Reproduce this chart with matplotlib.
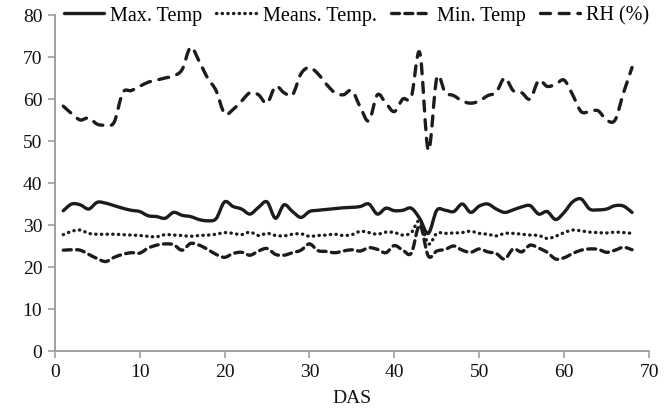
import matplotlib
matplotlib.use("Agg")
import matplotlib.pyplot as plt
from matplotlib.path import Path
from matplotlib.patches import PathPatch
from matplotlib.lines import Line2D

days = list(range(1, 69))

max_temp = [33.4, 35.0, 34.8, 33.8, 35.4, 35.2, 34.6, 34.0, 33.5, 33.2,
            32.2, 32.0, 31.6, 33.0, 32.3, 32.0, 31.3, 31.0, 31.5, 35.5,
            34.4, 33.8, 32.6, 34.2, 35.5, 31.6, 34.8, 33.2, 31.8, 33.2,
            33.5, 33.7, 33.9, 34.1, 34.2, 34.4, 35.0, 32.6, 34.0, 33.4,
            33.5, 34.0, 31.5, 28.0, 33.5, 33.5, 33.2, 35.0, 33.0, 34.5,
            35.0, 33.8, 33.0, 33.6, 34.3, 34.6, 32.6, 33.2, 31.3, 33.0,
            35.5, 36.2, 33.8, 33.6, 33.8, 34.6, 34.5, 33.0]

mean_temp = [27.7, 28.5, 28.8, 28.0, 27.8, 27.8, 27.8, 27.7, 27.6, 27.5,
             27.3, 27.2, 27.7, 27.6, 27.5, 27.3, 27.5, 27.6, 27.8, 28.2,
             28.0, 27.7, 28.3, 27.5, 28.0, 27.5, 27.4, 27.8, 27.9, 27.3,
             27.5, 27.6, 27.8, 27.5, 27.7, 28.5, 28.2, 27.8, 28.3, 28.2,
             27.6, 28.2, 31.0, 25.5, 28.0, 28.0, 28.1, 28.2, 28.5, 28.0,
             27.8, 27.4, 28.0, 28.0, 27.8, 27.6, 27.5, 26.8, 27.3, 28.2,
             28.8, 28.6, 28.3, 28.2, 28.1, 28.3, 28.2, 28.0]

min_temp = [24.0, 24.1, 24.0, 23.0, 22.0, 21.3, 22.3, 23.0, 23.4, 23.3,
            24.5, 25.2, 25.5, 25.3, 24.0, 25.6, 25.2, 24.2, 23.0, 22.3,
            23.2, 23.5, 22.8, 23.8, 24.4, 23.0, 22.8, 23.4, 24.0, 25.5,
            23.9, 23.7, 23.4, 23.8, 24.1, 23.8, 24.6, 24.2, 23.4, 25.1,
            24.0, 23.3, 30.0, 22.6, 23.8, 24.2, 25.0, 24.0, 23.5, 24.3,
            23.6, 23.2, 21.9, 24.3, 23.6, 25.2, 24.5, 23.5, 21.9, 22.2,
            23.2, 24.0, 24.3, 24.2, 23.5, 24.0, 24.7, 24.1]

rh = [58.3, 56.5, 55.0, 55.5, 54.0, 53.8, 54.5, 61.5, 62.0, 63.0,
      64.0, 64.5, 65.0, 65.5, 67.0, 72.3, 69.0, 65.0, 62.0, 56.5,
      57.5, 59.5, 61.5, 61.0, 59.0, 63.0, 61.5, 61.0, 66.0, 67.5,
      66.0, 63.5, 61.5, 61.0, 62.0, 58.0, 54.8, 61.0, 59.0, 57.0,
      60.0, 60.5, 71.0, 47.8, 65.0, 61.5, 60.8, 59.5, 59.0, 59.5,
      60.8, 61.6, 65.0, 62.0, 61.5, 60.0, 64.4, 63.0, 63.5, 64.5,
      61.0, 57.0, 57.0, 57.2, 55.0, 55.0, 61.5, 67.5]

labels = ["Max. Temp", "Means. Temp.", "Min. Temp", "RH (%)"]
x_ticks = [0, 10, 20, 30, 40, 50, 60, 70]
y_ticks = [0, 10, 20, 30, 40, 50, 60, 70, 80]

plt.rcParams['font.family'] = ['Liberation Serif', 'DejaVu Serif']

fig = plt.figure(figsize=(6.68, 4.10), dpi=100)
ax = fig.add_axes([0.082, 0.1415, 0.8896, 0.8195])

lc = '#1c1c1c'
lw = 2.4


def smooth_path(xs, ys):
    # Excel-style smoothed line: cubic Bezier segments through the data points
    n = len(xs)
    verts = [(xs[0], ys[0])]
    codes = [Path.MOVETO]
    for i in range(n - 1):
        x0, y0 = (xs[i - 1], ys[i - 1]) if i > 0 else (xs[i], ys[i])
        x1, y1 = xs[i], ys[i]
        x2, y2 = xs[i + 1], ys[i + 1]
        x3, y3 = (xs[i + 2], ys[i + 2]) if i + 2 < n else (x2, y2)
        c1 = (x1 + (x2 - x0) / 6.0, y1 + (y2 - y0) / 6.0)
        c2 = (x2 - (x3 - x1) / 6.0, y2 - (y3 - y1) / 6.0)
        verts += [c1, c2, (x2, y2)]
        codes += [Path.CURVE4] * 3
    return Path(verts, codes)


styles = ['-', (0, (0.1, 1.6)), (0, (2.4, 1.6)), (0, (3.0, 2.6))]
series = [max_temp, mean_temp, min_temp, rh]
handles = []
for vals, ls, lab in zip(series, styles, labels):
    patch = PathPatch(smooth_path(days, vals), fill=False, edgecolor=lc,
                      lw=lw, linestyle=ls, capstyle='round',
                      joinstyle='round')
    ax.add_patch(patch)
    handles.append(Line2D([], [], color=lc, lw=lw, linestyle=ls,
                          dash_capstyle='round', solid_capstyle='round',
                          label=lab))

ax.set_xlim(0, 70)
ax.set_ylim(0, 80)
ax.set_xticks(x_ticks)
ax.set_yticks(y_ticks)
ax.tick_params(axis='both', labelsize=14, color='#a0a0a0', length=5,
               width=1.2, direction='out', labelcolor='#111111', pad=4)
ax.set_xlabel("DAS", fontsize=14, labelpad=6, color='#111111')

for s in ['top', 'right']:
    ax.spines[s].set_visible(False)
for s in ['left', 'bottom']:
    ax.spines[s].set_color('#a0a0a0')
    ax.spines[s].set_linewidth(1.4)

leg = ax.legend(handles=handles, loc='center', bbox_to_anchor=(0.508, 1.0),
                ncol=4, frameon=False, fontsize=14.5, handlelength=2.0,
                handletextpad=0.3, columnspacing=0.7, borderaxespad=0)

fig.savefig("out.png", dpi=100)
